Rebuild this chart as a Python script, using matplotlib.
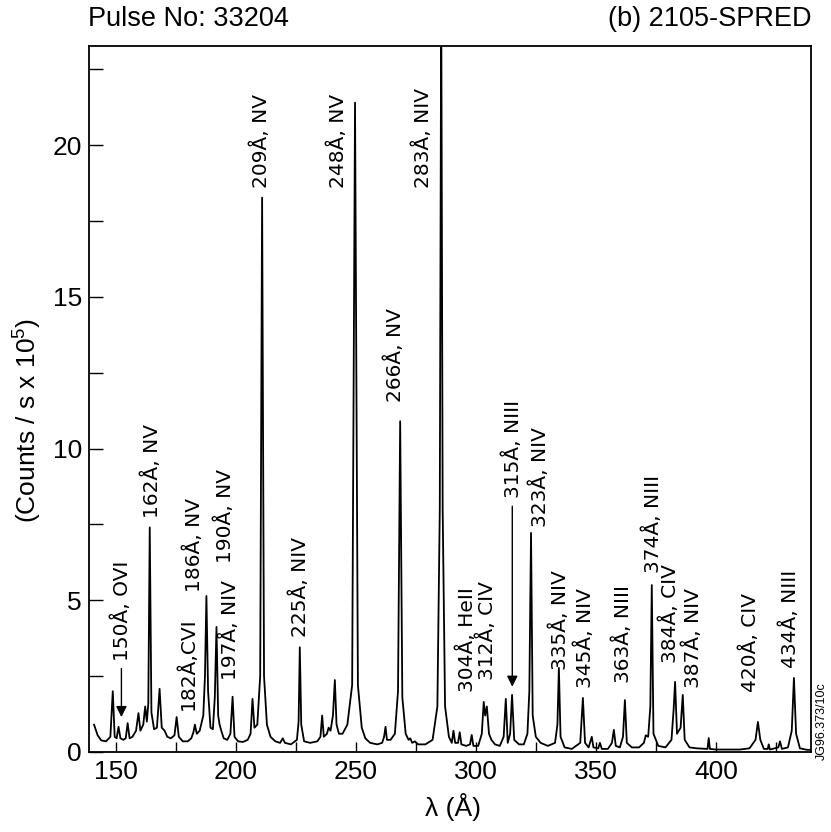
import matplotlib.pyplot as plt
from matplotlib.ticker import MultipleLocator

plt.rcParams['font.family'] = ['Liberation Sans', 'DejaVu Sans']
plt.rcParams['mathtext.fontset'] = 'custom'
plt.rcParams['mathtext.rm'] = 'Liberation Sans'
plt.rcParams['mathtext.default'] = 'regular'

# spectrum trace (wavelength in A, counts/s x 1e5)
wavelength = [
    141.0, 142.5, 144.0, 146.0, 147.8, 148.8, 149.6, 150.4, 151.2, 152.0,
    153.2, 154.2, 155.0, 155.8, 157.0, 158.5, 159.5, 160.3, 161.5, 162.3,
    163.0, 163.6, 164.2, 164.9, 166.0, 167.2, 168.3, 169.2, 170.4, 171.5,
    173.0, 174.5, 175.4, 176.3, 178.0, 180.0, 181.5, 182.4, 183.0, 183.8,
    185.0, 186.5, 187.2, 187.8, 188.5, 189.5, 190.5, 191.3, 192.0, 192.7,
    193.3, 194.0, 195.0, 196.5, 197.8, 198.7, 199.5, 201.0, 203.0, 205.0,
    206.2, 207.0, 207.8, 209.0, 210.2, 211.0, 211.8, 213.0, 214.5, 216.5,
    218.5, 219.6, 220.5, 223.0, 225.5, 226.2, 226.7, 227.3, 228.5, 231.0,
    234.0, 235.3, 236.0, 236.7, 238.0, 238.7, 239.5, 240.5, 241.3, 242.0,
    243.0, 244.5, 246.5, 248.5, 249.7, 250.9, 252.5, 254.0, 256.0, 259.0,
    261.0, 261.8, 262.4, 263.0, 264.5, 266.3, 267.6, 268.5, 269.4, 270.8,
    272.0, 272.7, 273.5, 274.6, 276.0, 279.0, 282.0, 284.0, 285.0, 285.6,
    286.2, 287.2, 288.8, 290.0, 290.7, 291.4, 292.6, 293.3, 294.0, 296.0,
    297.6, 298.3, 299.0, 301.0, 302.5, 303.3, 303.9, 304.6, 305.5, 306.5,
    308.0, 310.0, 311.6, 312.5, 313.3, 314.3, 315.1, 316.0, 318.0, 320.0,
    321.5, 322.3, 323.0, 323.7, 325.0, 327.0, 330.0, 333.0, 334.0, 334.6,
    335.3, 337.0, 340.0, 343.5, 344.6, 345.5, 347.0, 348.3, 349.0, 351.0,
    351.7, 352.5, 355.0, 356.7, 357.5, 358.3, 360.0, 361.3, 362.1, 362.9,
    365.0, 368.0, 370.0, 370.8, 371.8, 372.7, 373.3, 374.0, 376.0, 379.0,
    381.5, 382.4, 383.0, 383.8, 385.3, 386.2, 387.0, 389.0, 392.0, 396.5,
    397.0, 397.5, 400.0, 405.0, 410.0, 414.0, 416.5, 417.5, 418.5, 420.0,
    421.6, 422.0, 422.5, 426.0, 426.7, 427.5, 430.0, 431.6, 432.5, 433.4,
    435.0, 438.0, 440.0,
]
counts = [
    0.90, 0.55, 0.38, 0.35, 0.50, 2.00, 0.50, 0.45, 0.83, 0.45,
    0.40, 0.45, 0.95, 0.45, 0.50, 0.70, 1.28, 0.70, 0.90, 1.50,
    1.00, 1.60, 7.40, 1.30, 0.75, 0.80, 2.08, 0.80, 0.70, 0.50,
    0.45, 0.55, 1.15, 0.50, 0.35, 0.35, 0.45, 0.65, 0.90, 0.60,
    0.70, 1.20, 2.50, 5.14, 2.00, 0.80, 0.75, 1.80, 4.12, 1.20,
    0.90, 0.70, 0.45, 0.40, 0.60, 1.82, 0.50, 0.35, 0.33, 0.40,
    0.60, 1.75, 0.80, 0.90, 2.50, 18.27, 2.50, 0.90, 0.50, 0.35,
    0.30, 0.45, 0.30, 0.25, 0.40, 1.00, 3.45, 0.90, 0.35, 0.30,
    0.35, 0.50, 1.20, 0.50, 0.60, 0.80, 0.70, 1.20, 2.37, 0.90,
    0.60, 0.60, 0.90, 2.20, 21.40, 2.20, 0.80, 0.45, 0.30, 0.25,
    0.30, 0.50, 0.83, 0.40, 0.40, 0.60, 2.00, 10.90, 1.80, 0.60,
    0.40, 0.45, 0.30, 0.35, 0.25, 0.25, 0.40, 1.50, 8.00, 25.00,
    8.00, 1.50, 0.50, 0.30, 0.70, 0.30, 0.30, 0.65, 0.25, 0.20,
    0.25, 0.56, 0.20, 0.20, 0.60, 1.65, 1.20, 1.50, 0.60, 0.40,
    0.25, 0.20, 0.50, 1.75, 0.30, 0.60, 1.88, 0.40, 0.25, 0.25,
    0.60, 2.00, 7.22, 1.20, 0.50, 0.30, 0.20, 0.30, 0.90, 2.77,
    0.50, 0.15, 0.10, 0.30, 1.78, 0.30, 0.15, 0.50, 0.15, 0.12,
    0.30, 0.10, 0.10, 0.30, 0.73, 0.20, 0.15, 0.50, 1.71, 0.30,
    0.15, 0.15, 0.30, 0.55, 0.50, 1.50, 5.50, 0.60, 0.20, 0.15,
    0.40, 1.40, 2.31, 0.60, 0.80, 1.88, 0.40, 0.15, 0.12, 0.10,
    0.46, 0.10, 0.08, 0.08, 0.08, 0.12, 0.40, 0.99, 0.40, 0.10,
    0.10, 0.25, 0.08, 0.15, 0.35, 0.10, 0.15, 0.70, 2.44, 0.60,
    0.12, 0.07, 0.07,
]

# line identifications: text, x position, bottom of text (data units)
line_names = ["150Å, OVI", "162Å, NV", "182Å,CVI", "186Å, NV", "190Å, NV",
              "197Å, NIV", "209Å, NV", "225Å, NIV", "248Å, NV", "266Å, NV",
              "283Å, NIV", "304Å, HeII", "312Å, CIV", "315Å, NIII", "323Å, NIV",
              "335Å, NIV", "345Å, NIV", "363Å, NIII", "374Å, NIII", "384Å, CIV",
              "387Å, NIV", "420Å, CIV", "434Å, NIII"]
line_x = [152.4, 165.0, 180.0, 182.5, 195.4,
          197.5, 210.5, 226.7, 242.5, 266.3,
          277.8, 296.3, 304.6, 315.4, 326.7,
          335.0, 345.4, 361.3, 373.8, 380.8,
          390.4, 414.2, 430.8]
line_y = [3.0, 7.7, 1.38, 5.28, 6.23,
          2.37, 18.6, 3.79, 18.6, 11.54,
          18.6, 1.98, 2.37, 8.37, 7.42,
          2.7, 2.11, 2.27, 5.9, 2.93,
          2.11, 1.98, 2.77]

arrow_x = [152.4, 315.2]
arrow_from = [2.75, 8.1]
arrow_to = [1.15, 2.15]

fig = plt.figure(figsize=(8.31, 8.32), dpi=100)
ax = fig.add_axes([0.1071, 0.0962, 0.8688, 0.8486])

ax.plot(wavelength, counts, color='black', lw=1.3)

for name, x, y in zip(line_names, line_x, line_y):
    ax.text(x, y, name, rotation=90, ha='center', va='bottom',
            fontsize=14.5, family=['DejaVu Sans'])

for x, y0, y1 in zip(arrow_x, arrow_from, arrow_to):
    ax.annotate('', xy=(x, y1), xytext=(x, y0),
                arrowprops=dict(arrowstyle='-|>', color='black', lw=1.0,
                                mutation_scale=16, shrinkA=0, shrinkB=0))

ax.set_xlim(138.9, 439.6)
ax.set_ylim(0, 23.27)
ax.set_xticks([150, 200, 250, 300, 350, 400])
ax.xaxis.set_minor_locator(MultipleLocator(25))
ax.set_yticks([0, 5, 10, 15, 20])
ax.yaxis.set_minor_locator(MultipleLocator(2.5))
ax.tick_params(axis='x', which='both', direction='in', length=7, width=1,
               labelsize=19, pad=6)
ax.tick_params(axis='y', which='both', direction='in', length=10, width=1,
               labelsize=19, pad=5)
for s in ax.spines.values():
    s.set_linewidth(1.3)

ax.set_xlabel('λ (Å)', fontsize=19)
ax.xaxis.set_label_coords(0.504, -0.058)
ax.set_ylabel('(Counts / s x 10$^{5}$)', fontsize=19)
ax.yaxis.set_label_coords(-0.062, 0.47)

fig.text(0.106, 0.977, 'Pulse No: 33204', fontsize=19.5, ha='left', va='center')
fig.text(0.976, 0.977, '(b) 2105-SPRED', fontsize=19.5, ha='right', va='center')
fig.text(0.989, 0.133, 'JG96.373/10c', fontsize=9, rotation=90,
         ha='center', va='center')

fig.savefig('out.png', dpi=100)
